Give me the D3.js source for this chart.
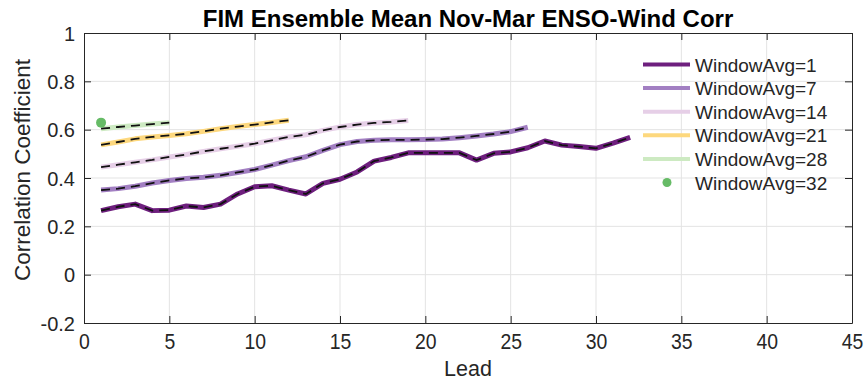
<!DOCTYPE html>
<html><head><meta charset="utf-8">
<script src="https://cdn.jsdelivr.net/npm/d3@7"></script>
<style>body{margin:0;background:#fff;} svg{display:block;font-family:"Liberation Sans",Arial,Helvetica,sans-serif;}</style>
</head><body><svg id="c" width="864" height="383"></svg>
<script>
const seriesNames = ["WindowAvg=1","WindowAvg=7","WindowAvg=14","WindowAvg=21","WindowAvg=28","WindowAvg=32"];
const seriesColors = ["#6e1f7e","#a27fc2","#e6cfe7","#fdd87e","#cdeac2","#66bb66"];
const win1 = [0.265,0.281,0.292,0.265,0.267,0.284,0.278,0.292,0.334,0.364,0.368,0.35,0.334,0.378,0.395,0.425,0.47,0.485,0.504,0.504,0.504,0.504,0.474,0.502,0.508,0.525,0.553,0.536,0.53,0.523,0.544,0.568];
const win7 = [0.35,0.356,0.366,0.379,0.39,0.398,0.403,0.411,0.423,0.435,0.453,0.472,0.488,0.514,0.538,0.551,0.556,0.558,0.558,0.559,0.561,0.567,0.574,0.582,0.592,0.61];
const win14 = [0.445,0.455,0.465,0.475,0.487,0.497,0.51,0.521,0.531,0.542,0.556,0.57,0.579,0.597,0.611,0.621,0.628,0.632,0.638];
const win21 = [0.537,0.549,0.562,0.57,0.576,0.583,0.593,0.604,0.613,0.621,0.63,0.639];
const win28 = [0.604,0.611,0.617,0.623,0.629];
const win32 = [0.629];
const xTicks = [0,5,10,15,20,25,30,35,40,45];
const yTicks = [-0.2,0,0.2,0.4,0.6,0.8,1];
const yTickLabels = ["-0.2","0","0.2","0.4","0.6","0.8","1"];
const titleText = "FIM Ensemble Mean Nov-Mar ENSO-Wind Corr";

const svg = d3.select("#c");
const L=84,R=852,T=33,B=323;
const x = d3.scaleLinear().domain([0,45]).range([L,R]);
const y = d3.scaleLinear().domain([-0.2,1]).range([B,T]);
const axisCol = "#262626";

// grid
svg.append("g").selectAll("line").data(xTicks.slice(1,-1)).join("line")
  .attr("x1",d=>x(d)).attr("x2",d=>x(d)).attr("y1",T).attr("y2",B)
  .attr("stroke","#e3e3e3").attr("stroke-width",1);
svg.append("g").selectAll("line").data(yTicks.slice(1,-1)).join("line")
  .attr("y1",d=>y(d)).attr("y2",d=>y(d)).attr("x1",L).attr("x2",R)
  .attr("stroke","#e3e3e3").attr("stroke-width",1);

// axes
const ax = d3.axisBottom(x).tickValues(xTicks).tickSizeInner(-7).tickSizeOuter(0).tickPadding(12);
const gx = svg.append("g").attr("transform",`translate(0,${B})`).call(ax);
const ax2 = d3.axisTop(x).tickValues(xTicks).tickSizeInner(-7).tickSizeOuter(0).tickFormat("");
svg.append("g").attr("transform",`translate(0,${T})`).call(ax2);
const ay = d3.axisLeft(y).tickValues(yTicks).tickFormat((d,i)=>yTickLabels[i]).tickSizeInner(-7).tickSizeOuter(0).tickPadding(10);
const gy = svg.append("g").attr("transform",`translate(${L},0)`).call(ay);
const ay2 = d3.axisRight(y).tickValues(yTicks).tickSizeInner(-7).tickSizeOuter(0).tickFormat("");
svg.append("g").attr("transform",`translate(${R},0)`).call(ay2);
svg.selectAll(".domain").attr("stroke",axisCol).attr("stroke-width",1);
svg.selectAll(".tick line").attr("stroke",axisCol);
svg.selectAll(".tick text").attr("font-size",20).attr("fill",axisCol).attr("font-family","Liberation Sans, Arial, sans-serif");
gx.selectAll(".tick text").attr("dy",null).attr("y",null).attr("transform","translate(0,26) scale(0.97,1.08)");
gy.selectAll(".tick text").attr("dy","0.36em").attr("x",-9);

// lines
const data = [win1,win7,win14,win21,win28];
const line = d3.line().x((d,i)=>x(i+1)).y(d=>y(d));
data.forEach((s,k)=>{
  svg.append("path").attr("d",line(s)).attr("fill","none")
    .attr("stroke",seriesColors[k]).attr("stroke-width",5).attr("stroke-linejoin","round");
  svg.append("path").attr("d",line(s)).attr("fill","none")
    .attr("stroke","#111").attr("stroke-width",1.8).attr("stroke-dasharray","9,6");
});
svg.append("g").selectAll("circle").data(win32).join("circle")
  .attr("cx",(d,i)=>x(i+1)).attr("cy",d=>y(d)).attr("r",5).attr("fill",seriesColors[5]);

// legend
const lg = svg.append("g");
seriesNames.forEach((n,i)=>{
  const yy = 64.5 + i*23.6;
  if(i<5){
    lg.append("line").attr("x1",643).attr("x2",690).attr("y1",yy).attr("y2",yy)
      .attr("stroke",seriesColors[i]).attr("stroke-width",4);
  } else {
    lg.append("circle").attr("cx",667).attr("cy",yy).attr("r",4.5).attr("fill",seriesColors[i]);
  }
  lg.append("text").attr("x",695).attr("y",yy+7).attr("font-size",19).attr("fill",axisCol).text(n);
});

// titles
svg.append("text").attr("x",(L+R)/2).attr("y",27).attr("text-anchor","middle")
  .attr("font-size",24).attr("font-weight","bold").attr("fill","#000").text(titleText);
svg.append("text").attr("x",(L+R)/2).attr("y",376).attr("text-anchor","middle")
  .attr("font-size",21.5).attr("fill",axisCol).text("Lead");
svg.append("text").attr("transform",`translate(30,170) rotate(-90)`).attr("text-anchor","middle")
  .attr("font-size",22.5).attr("fill",axisCol).text("Correlation Coefficient");
</script></body></html>
